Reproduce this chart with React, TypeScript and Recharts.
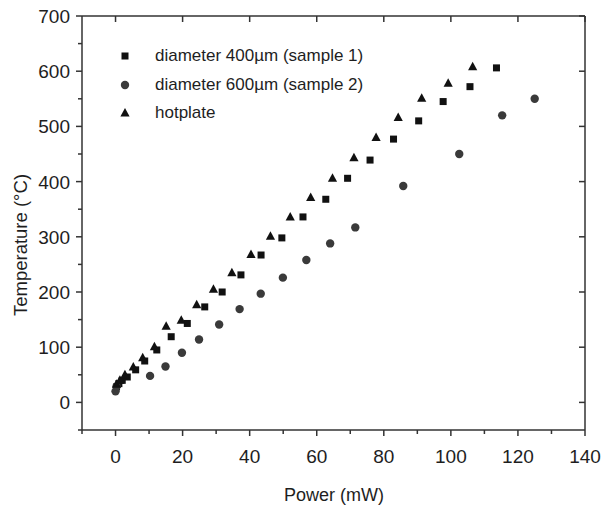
import { ScatterChart, Scatter, XAxis, YAxis, Legend, Label } from "recharts";

// diameter 400um (sample 1) - squares
const sample1Power = [0.3, 1.0, 2.0, 3.5, 6.0, 8.7, 12.3, 16.6, 21.4, 26.6, 31.8, 37.4, 43.4, 49.6, 55.9, 62.7, 69.2, 75.9, 82.9, 90.4, 97.7, 105.7, 113.6];
const sample1Temp = [28, 34, 40, 46, 59, 75, 95, 119, 143, 173, 200, 231, 267, 298, 336, 368, 406, 439, 477, 510, 545, 572, 606];

// diameter 600um (sample 2) - circles
const sample2Power = [0, 0.3, 10.3, 14.9, 19.8, 24.9, 30.9, 37.0, 43.3, 49.9, 56.9, 64.0, 71.5, 85.8, 102.5, 115.3, 125.0];
const sample2Temp = [20, 29, 48, 65, 90, 114, 141, 169, 197, 226, 258, 288, 317, 392, 450, 520, 550];

// hotplate - triangles
const hotplatePower = [0.3, 1.3, 2.8, 5.3, 8.1, 11.6, 15.1, 19.6, 24.2, 29.2, 34.7, 40.4, 46.2, 52.1, 58.2, 64.7, 71.1, 77.7, 84.3, 91.3, 99.2, 106.5];
const hotplateTemp = [33, 40, 50, 64, 81, 101, 138, 149, 177, 205, 235, 268, 301, 336, 371, 406, 443, 480, 516, 551, 578, 608];

const xDomain = [-10, 140];
const yDomain = [-50, 700];
const xTicks = [-10, 0, 10, 20, 30, 40, 50, 60, 70, 80, 90, 100, 110, 120, 130, 140];
const xMajorTicks = [0, 20, 40, 60, 80, 100, 120, 140];
const yTicks = [-50, 0, 50, 100, 150, 200, 250, 300, 350, 400, 450, 500, 550, 600, 650, 700];
const yMajorTicks = [0, 100, 200, 300, 400, 500, 600, 700];

const legendLabels = ["diameter 400µm (sample 1)", "diameter 600µm (sample 2)", "hotplate"];

const toPoints = (xs: number[], ys: number[]) => xs.map((x, i) => ({ x, y: ys[i] }));

const W = 603;
const H = 506;
const MARGIN = { top: 16, right: 18, left: 0, bottom: 0 };
const Y_AXIS_W = 82;
const X_AXIS_H = 76;
// plot box edges, from the layout above
const PT = MARGIN.top;
const PR = W - MARGIN.right;

const AXIS = "#333";
const TEXT = "#1e1e1e";
const FONT = "'Liberation Sans', Arial, sans-serif";

const Square = ({ cx, cy }: any) => <rect x={cx - 3.5} y={cy - 3.5} width={7} height={7} fill="#111" />;
const Circle = ({ cx, cy }: any) => <circle cx={cx} cy={cy} r={4.2} fill="#3a3a3a" />;
const Triangle = ({ cx, cy }: any) => (
  <polygon points={`${cx},${cy - 5} ${cx + 4.6},${cy + 3.5} ${cx - 4.6},${cy + 3.5}`} fill="#111" />
);

// bottom ticks + labels; majors also put an inward stub on the top edge,
// and the last tick draws the right edge of the frame
function BottomTick({ x, y, payload }: any) {
  const v = payload.value;
  const major = xMajorTicks.includes(v);
  return (
    <g>
      <line x1={x} x2={x} y1={y} y2={y + (major ? 6 : 4)} stroke={AXIS} strokeWidth={1.5} />
      {major && <line x1={x} x2={x} y1={PT} y2={PT + 6} stroke={AXIS} strokeWidth={1.5} />}
      {v === xDomain[1] && <line x1={x} x2={x} y1={PT} y2={y} stroke={AXIS} strokeWidth={1.5} />}
      {major && (
        <text x={x} y={y + 33} textAnchor="middle" fontSize={19} fill={TEXT} fontFamily={FONT}>
          {v}
        </text>
      )}
    </g>
  );
}

// left ticks + labels; majors also put an inward stub on the right edge,
// and the top tick draws the top edge of the frame
function LeftTick({ x, y, payload }: any) {
  const v = payload.value;
  const major = yMajorTicks.includes(v);
  return (
    <g>
      <line x1={x - (major ? 6 : 4)} x2={x} y1={y} y2={y} stroke={AXIS} strokeWidth={1.5} />
      {major && <line x1={PR - 6} x2={PR} y1={y} y2={y} stroke={AXIS} strokeWidth={1.5} />}
      {v === yDomain[1] && <line x1={x} x2={PR} y1={y} y2={y} stroke={AXIS} strokeWidth={1.5} />}
      {major && (
        <text x={x - 12} y={y + 7} textAnchor="end" fontSize={19} fill={TEXT} fontFamily={FONT}>
          {v}
        </text>
      )}
    </g>
  );
}

function LegendBox() {
  const marks = [
    <rect x={3.5} y={3.5} width={7} height={7} fill="#111" />,
    <circle cx={7} cy={7} r={4.2} fill="#3a3a3a" />,
    <polygon points="7,2 11.6,10.5 2.4,10.5" fill="#111" />,
  ];
  return (
    <div style={{ fontFamily: FONT, fontSize: 17, color: TEXT }}>
      {legendLabels.map((label, i) => (
        <div key={label} style={{ display: "flex", alignItems: "center", height: 28.5 }}>
          <svg width={14} height={14} style={{ marginRight: 23 }}>
            {marks[i]}
          </svg>
          <span>{label}</span>
        </div>
      ))}
    </div>
  );
}

export default function App() {
  return (
    <div style={{ position: "absolute", left: 0, top: 0, width: W, height: H, background: "#fff" }}>
      <ScatterChart width={W} height={H} margin={MARGIN}>
        <XAxis
          dataKey="x"
          type="number"
          domain={xDomain}
          allowDataOverflow
          ticks={xTicks}
          interval={0}
          height={X_AXIS_H}
          stroke={AXIS}
          strokeWidth={1.5}
          tickLine={false}
          tickSize={0}
          tickMargin={0}
          tick={<BottomTick />}
        >
          <Label
            content={() => (
              <text x={334} y={501} textAnchor="middle" fontSize={18} fill={TEXT} fontFamily={FONT}>
                Power (mW)
              </text>
            )}
          />
        </XAxis>
        <YAxis
          dataKey="y"
          type="number"
          domain={yDomain}
          allowDataOverflow
          ticks={yTicks}
          interval={0}
          width={Y_AXIS_W}
          stroke={AXIS}
          strokeWidth={1.5}
          tickLine={false}
          tickSize={0}
          tickMargin={0}
          tick={<LeftTick />}
        >
          <Label
            content={() => (
              <text
                x={27}
                y={245}
                transform="rotate(-90, 27, 245)"
                textAnchor="middle"
                fontSize={18.5}
                fill={TEXT}
                fontFamily={FONT}
              >
                Temperature (°C)
              </text>
            )}
          />
        </YAxis>
        <Legend
          layout="horizontal"
          verticalAlign="middle"
          content={<LegendBox />}
          wrapperStyle={{ left: 118, top: 42, width: 320 }}
        />
        <Scatter name={legendLabels[0]} data={toPoints(sample1Power, sample1Temp)} shape={Square} isAnimationActive={false} />
        <Scatter name={legendLabels[1]} data={toPoints(sample2Power, sample2Temp)} shape={Circle} isAnimationActive={false} />
        <Scatter name={legendLabels[2]} data={toPoints(hotplatePower, hotplateTemp)} shape={Triangle} isAnimationActive={false} />
      </ScatterChart>
    </div>
  );
}
